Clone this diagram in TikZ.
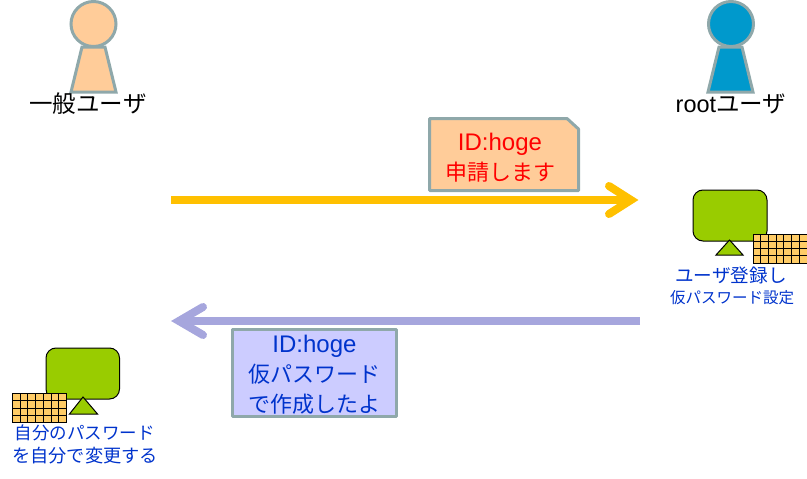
\documentclass[tikz,border=0pt]{standalone}
\usepackage{fontspec}
\setmainfont{Liberation Sans}
\newfontfamily\cjk{Noto Sans CJK JP}

\definecolor{skin}{HTML}{FFCC99}
\definecolor{rootblue}{HTML}{0099CC}
\definecolor{edgegrey}{HTML}{8FA8AA}
\definecolor{screengreen}{HTML}{99CC00}
\definecolor{keyyellow}{HTML}{FFCC66}
\definecolor{sendorange}{HTML}{FFC000}
\definecolor{replyviolet}{HTML}{A6A6DD}
\definecolor{replyfill}{HTML}{CCCCFF}
\definecolor{noteblue}{HTML}{0033CC}

\tikzset{
  person/.style={draw=edgegrey,line width=3pt,line join=miter},
  notebox/.style={draw=edgegrey,line width=3pt,line join=round},
  bigarrow/.style={line width=8pt,line cap=round,line join=miter},
  screen/.style={draw=black,line width=1pt,fill=screengreen},
  userlabel/.style={font=\fontsize{23.5}{26}\selectfont\cjk,black},
  notelabel/.style={font=\fontsize{22}{30}\selectfont,align=center,inner sep=0pt},
  smalllabel/.style={font=\fontsize{#1}{23}\selectfont\cjk,text=noteblue,align=center,inner sep=0pt}
}

\newcommand{\latinid}{{\fontsize{24}{30}\selectfont ID:hoge}}

% One keyboard, given by its top left corner
\newcommand{\keyboard}[2]{
  \draw[black,line width=1pt,fill=keyyellow] (#1, #2) rectangle ++(54, 29);
  \foreach \col in {1,...,6} {
    \draw[black,line width=1pt] (#1 + \col * 7.7, #2) -- ++(0, 29);
  }
  \foreach \row in {1,...,3} {
    \draw[black,line width=1pt] (#1, #2 + \row * 7.25) -- ++(54, 0);
  }
}

\begin{document}
\begin{tikzpicture}[x=1pt,y=-1pt]
\useasboundingbox (0, 0) rectangle (807, 479);

% The ordinary user
\filldraw[person,fill=skin] (82, 47) -- (105, 47) -- (116, 92) -- (71, 92) -- cycle;
\filldraw[person,fill=skin] (93.5, 24) circle (22.5);
\node[userlabel] (username) at (88, 104) {一般ユーザ};

% The root user
\filldraw[person,fill=rootblue] (719, 47) -- (742, 47) -- (753, 92) -- (708, 92) -- cycle;
\filldraw[person,fill=rootblue] (731, 24) circle (22.5);
\node[userlabel] (rootname) at (731, 104) {{\fontspec{Liberation Sans}root}ユーザ};

% The request
\filldraw[notebox,fill=skin] (429.5, 118.5) -- (567, 118.5) -- (578.5, 129) -- (578.5, 190.5) -- (429.5, 190.5) -- cycle;
\node[notelabel,text=red] (request) at (500, 157.5) {\latinid\\{\cjk 申請します}};

% The arrow to root
\coordinate (sendstart) at (171, 200);
\coordinate (sendtip) at (631, 200);
\coordinate (sendup) at (609, 186);
\coordinate (senddown) at (609, 214);
\draw[bigarrow,sendorange,line cap=butt] (sendstart) -- (sendtip);
\draw[bigarrow,sendorange] (sendup) -- (sendtip) -- (senddown);

% The computer of root
\filldraw[screen,rounded corners=10pt] (693, 190) rectangle (767, 241);
\filldraw[screen] (729.5, 240) -- (743, 255) -- (716, 255) -- cycle;
\keyboard{753}{234}
\node[smalllabel=18.6] (rootjob) at (731, 275) {ユーザ登録し};
\node[smalllabel=15.5] (rootjobtwo) at (732, 298) {仮パスワード設定};

% The arrow back to the user
\coordinate (replystart) at (640, 321);
\coordinate (replytip) at (179, 321);
\coordinate (replyup) at (203, 307);
\coordinate (replydown) at (203, 335);
\draw[bigarrow,replyviolet,line cap=butt] (replystart) -- (replytip);
\draw[bigarrow,replyviolet] (replyup) -- (replytip) -- (replydown);

% The reply
\filldraw[notebox,fill=replyfill] (232.5, 329.5) rectangle (396.5, 416.5);
\node[notelabel,text=noteblue] (reply) at (314.5, 375) {\latinid\\{\cjk 仮パスワード}\\{\cjk で作成したよ}};

% The computer of the user
\filldraw[screen,rounded corners=10pt] (46, 348) rectangle (119.5, 399);
\filldraw[screen] (83, 397) -- (97.5, 414) -- (69.5, 414) -- cycle;
\keyboard{12.5}{393.5}
\node[smalllabel=17.5] (userjob) at (85, 433) {自分のパスワード};
\node[smalllabel=18.2] (userjobtwo) at (85, 456) {を自分で変更する};

\end{tikzpicture}
\end{document}
